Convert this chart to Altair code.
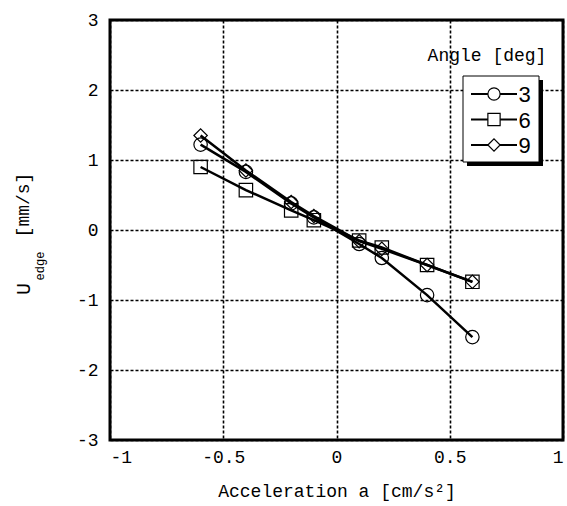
import altair as alt
import pandas as pd

# Measured edge velocity against imposed acceleration, one series per tilt angle
angles = [3, 6, 9]
accel = [-0.6, -0.4, -0.2, -0.1, 0.1, 0.2, 0.4, 0.6]
u_edge_3 = [1.22, 0.83, 0.38, 0.18, -0.20, -0.40, -0.93, -1.53]
u_edge_6 = [0.90, 0.57, 0.28, 0.14, -0.15, -0.25, -0.50, -0.74]
u_edge_9 = [1.35, 0.85, 0.40, 0.20, -0.16, -0.27, -0.50, -0.74]

x_ticks = [-1, -0.5, 0, 0.5, 1]
y_ticks = [-3, -2, -1, 0, 1, 2, 3]

FONT = "Liberation Mono"
W, H = 453, 420

rows = []
for ang, vals in zip(angles, [u_edge_3, u_edge_6, u_edge_9]):
    for a, u in zip(accel, vals):
        rows.append({"accel": a, "u": u, "angle": str(ang)})
df = pd.DataFrame(rows)

shape_scale = alt.Scale(domain=["3", "6", "9"], range=["circle", "square", "diamond"])

x_enc = alt.X(
    "accel:Q",
    scale=alt.Scale(domain=[-1, 1], nice=False, zero=False),
    axis=alt.Axis(values=x_ticks, labelExpr="toString(datum.value)",
                  title="Acceleration a [cm/s²]"),
)
y_enc = alt.Y(
    "u:Q",
    scale=alt.Scale(domain=[-3, 3], nice=False),
    axis=alt.Axis(values=y_ticks, labelExpr="toString(datum.value)", title=None),
)

lines = alt.Chart(df).mark_line(color="black", strokeWidth=2.5).encode(
    x=x_enc, y=y_enc, detail="angle:N"
)
points = alt.Chart(df).mark_point(
    filled=False, color="black", strokeWidth=1.2, size=180, opacity=1
).encode(
    x="accel:Q", y="u:Q",
    shape=alt.Shape("angle:N", scale=shape_scale, legend=None),
)

one = pd.DataFrame({"k": [0]})

# y-axis title: U with subscript "edge", then units
def label(text, x, y, size, angle=0, align="center", baseline="middle"):
    return alt.Chart(one).mark_text(
        text=text, font=FONT, fontSize=size, color="black",
        angle=angle, align=align, baseline=baseline,
    ).encode(x=alt.value(x), y=alt.value(y))

ytitle = [
    label("U", -86, 269, 20, angle=270),
    label("edge", -70, 246, 12, angle=270),
    label("[mm/s]", -86, 185, 18, angle=270),
]

# legend box with drop shadow
def box(x1, x2, y1, y2, fill, stroke=None):
    kw = dict(fill=fill)
    if stroke:
        kw.update(stroke=stroke, strokeWidth=1)
    return alt.Chart(one).mark_rect(**kw).encode(
        x=alt.value(x1), x2=alt.value(x2), y=alt.value(y1), y2=alt.value(y2)
    )

legend_layers = [
    box(357, 433, 60, 146, "black"),
    box(353, 429, 56, 142, "white", "black"),
    label("Angle [deg]", 377, 36, 18),
]
for i, ang in enumerate(angles):
    ly = 74 + i * 25.5
    legend_layers.append(
        alt.Chart(one).mark_rule(color="black", strokeWidth=2).encode(
            x=alt.value(361), x2=alt.value(407), y=alt.value(ly)
        )
    )
    legend_layers.append(
        alt.Chart(pd.DataFrame({"angle": [str(ang)]})).mark_point(
            filled=True, fill="white", stroke="black", strokeWidth=1.2, size=150, opacity=1
        ).encode(
            x=alt.value(384), y=alt.value(ly),
            shape=alt.Shape("angle:N", scale=shape_scale, legend=None),
        )
    )
    legend_layers.append(label(str(ang), 408, ly + 1, 22, align="left"))

chart = alt.layer(lines, points, *ytitle, *legend_layers).properties(
    width=W, height=H,
    autosize="none",
    padding={"left": 110, "top": 20, "right": 4, "bottom": 66},
    background="white",
).configure_view(
    stroke="black", strokeWidth=3
).configure_axis(
    domain=False, ticks=False, grid=True,
    gridColor="black", gridDash=[3, 2], gridWidth=1.6, gridOpacity=1,
    labelFont=FONT, labelFontSize=18, labelColor="black",
    titleFont=FONT, titleFontSize=18, titleFontWeight="normal", titleColor="black",
).configure_axisX(
    labelPadding=8, titlePadding=16
).configure_axisY(
    labelPadding=12
)

chart.save("out.html", embed_options={"renderer": "svg", "actions": False})
